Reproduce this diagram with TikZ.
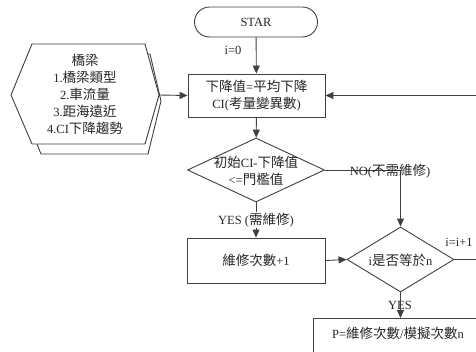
\documentclass[tikz,border=0pt]{standalone}
\usepackage{fontspec}
\setmainfont{Liberation Serif}
\newfontfamily\cjk[Scale=1.08]{Noto Sans CJK TC}
\usetikzlibrary{arrows.meta,shapes.geometric}
\begin{document}
\begin{tikzpicture}[x=1pt,y=-1pt,
  every node/.style={font=\fontsize{12.5}{17}\selectfont, text=black!85, inner sep=1pt},
  ln/.style={draw=black!75, line width=0.9pt},
  arr/.style={ln, -{Triangle[length=8pt,width=7pt]}},
  box/.style={ln, rectangle, fill=white},
  dia/.style={ln, diamond, fill=white, inner sep=0pt}]
\useasboundingbox (0,0) rectangle (476,351);
\clip (0,0) rectangle (476,351);

% start
\node[box, rounded corners=15pt, minimum width=123pt, minimum height=30pt] (star) at (256,22) {STAR};

% box 1
\node[box, minimum width=137pt, minimum height=43pt, align=center] (b1) at (256.5,95.5)
  {{\cjk 下降值}={\cjk 平均下降}\\CI({\cjk 考量變異數})};

% hexagon (stacked)
\draw[ln, fill=white] (21,105) -- (40,54) -- (150,54) -- (161,101) -- (148,154) -- (41,154) -- cycle;
\draw[ln, fill=white] (11,95) -- (32,44) -- (145,44) -- (159,95) -- (145,144) -- (32,144) -- cycle;
\coordinate (hexR) at (159,95);
\node[align=center] (hex) at (85,94)
  {{\cjk 橋梁}\\1.{\cjk 橋梁類型}\\2.{\cjk 車流量}\\3.{\cjk 距海遠近}\\4.CI{\cjk 下降趨勢}};

% diamond 1
\node[dia, minimum width=137pt, minimum height=64pt] (d1) at (256,170) {};
\node[align=center] (d1t) at (256,170.5) {{\cjk 初始}CI-{\cjk 下降值}\\<={\cjk 門檻值}};

% box 2
\node[box, minimum width=138pt, minimum height=45pt] (b2) at (256,260.5) {{\cjk 維修次數}+1};

% diamond 2
\node[dia, minimum width=107pt, minimum height=65pt] (d2) at (400.5,259.5) {};
\node (d2t) at (400.5,260) {i{\cjk 是否等於}n};

% box 3
\node[box, minimum width=170pt, minimum height=44pt, anchor=north west] (b3) at (313,318) {};
\node (b3t) at (398,333) {P={\cjk 維修次數}/{\cjk 模擬次數}n};

% connectors
\draw[arr] (star) -- (b1);
\node (i0) at (233,50) {i=0};
\draw[arr] (hexR) -- (b1.west);
\draw[arr] (b1) -- (d1);
\draw[arr] (d1.south) -- (b2.north);
\node[fill=white] (yes1) at (256,220) {YES ({\cjk 需維修})};
\draw[arr] (d1.east) -| (d2.north);
\node (no) at (390,171.5) {NO({\cjk 不需維修})};
\draw[arr] (b2.east) -- (d2.west);
\coordinate (loop) at (490,259.5);
\draw[arr] (d2.east) -- (loop) |- (b1.east);
\node (inc) at (459,242) {i=i+1};
\draw[arr] (d2.south) -- (b3.north -| d2.south);
\node (yes2) at (400,305) {YES};
\end{tikzpicture}
\end{document}
